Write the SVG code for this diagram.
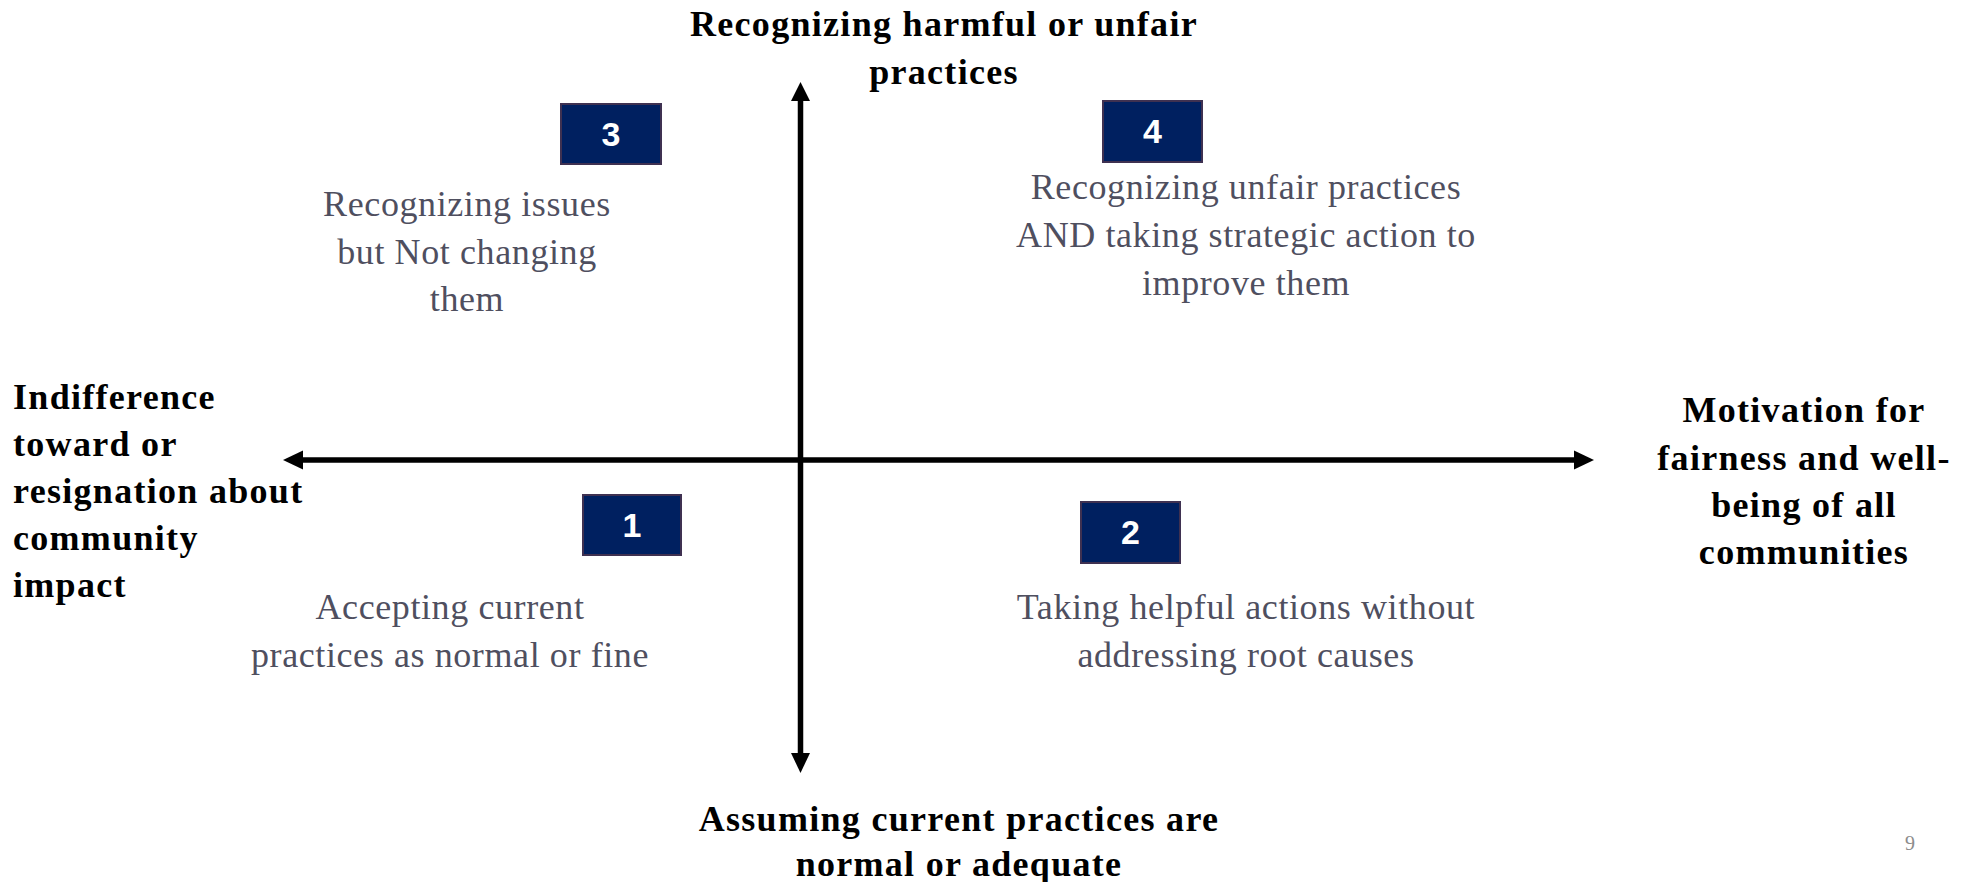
<svg xmlns="http://www.w3.org/2000/svg" width="1974" height="882" viewBox="0 0 1974 882">
<style>
.axis{font-family:"Liberation Serif",serif;font-weight:bold;font-size:36px;letter-spacing:1.3px;fill:#000;}
.q{font-family:"Liberation Serif",serif;font-size:36px;letter-spacing:0.6px;fill:#4f4f5f;text-anchor:middle;}
.box{fill:#002060;stroke:#3f3151;stroke-width:2;}
.num{font-family:"Liberation Sans",sans-serif;font-weight:bold;font-size:34px;fill:#fff;text-anchor:middle;}
.ln{stroke:#000;stroke-width:5.5;fill:none;}
.hd{fill:#000;}
</style>
<rect width="1974" height="882" fill="#fff"/>
<g id="connectors">
<line class="ln" x1="301" y1="460" x2="1576" y2="460"/>
<polygon class="hd" points="1594,460 1574,450.5 1574,469.5"/>
<polygon class="hd" points="283,460 303,450.5 303,469.5"/>
<line class="ln" x1="800.5" y1="99" x2="800.5" y2="755"/>
<polygon class="hd" points="800.5,82 791,101 810,101"/>
<polygon class="hd" points="800.5,773 791,753 810,753"/>
</g>
<g id="label-top">
<text class="axis" text-anchor="middle" x="944" y="36">Recognizing harmful or unfair</text>
<text class="axis" text-anchor="middle" x="944" y="84">practices</text>
</g>
<g id="label-bottom">
<text class="axis" text-anchor="middle" x="959" y="831">Assuming current practices are</text>
<text class="axis" text-anchor="middle" x="959" y="876">normal or adequate</text>
</g>
<g id="label-left">
<text class="axis" x="13" y="409">Indifference</text>
<text class="axis" x="13" y="456">toward or</text>
<text class="axis" x="13" y="503">resignation about</text>
<text class="axis" x="13" y="550">community</text>
<text class="axis" x="13" y="597">impact</text>
</g>
<g id="label-right">
<text class="axis" text-anchor="middle" x="1804" y="422">Motivation for</text>
<text class="axis" text-anchor="middle" x="1804" y="470">fairness and well-</text>
<text class="axis" text-anchor="middle" x="1804" y="517">being of  all</text>
<text class="axis" text-anchor="middle" x="1804" y="564">communities</text>
</g>
<g id="node-3">
<rect class="box" x="561" y="104" width="100" height="60"/>
<text class="num" x="611" y="146">3</text>
<text class="q" x="467" y="216">Recognizing issues</text>
<text class="q" x="467" y="264">but Not changing</text>
<text class="q" x="467" y="311">them</text>
</g>
<g id="node-4">
<rect class="box" x="1103" y="101" width="99" height="61"/>
<text class="num" x="1152.5" y="143">4</text>
<text class="q" x="1246" y="199">Recognizing unfair practices</text>
<text class="q" x="1246" y="247">AND taking strategic action to</text>
<text class="q" x="1246" y="295">improve them</text>
</g>
<g id="node-1">
<rect class="box" x="583" y="495" width="98" height="60"/>
<text class="num" x="632" y="537">1</text>
<text class="q" x="450" y="619">Accepting current</text>
<text class="q" x="450" y="667">practices as normal or fine</text>
</g>
<g id="node-2">
<rect class="box" x="1081" y="502" width="99" height="61"/>
<text class="num" x="1130.5" y="544">2</text>
<text class="q" x="1246" y="619">Taking helpful actions without</text>
<text class="q" x="1246" y="667">addressing root causes</text>
</g>
<g id="page-number">
<text x="1905" y="850" style="font-family:'Liberation Serif',serif;font-size:20px;fill:#8c8c8c;">9</text>
</g>
</svg>
